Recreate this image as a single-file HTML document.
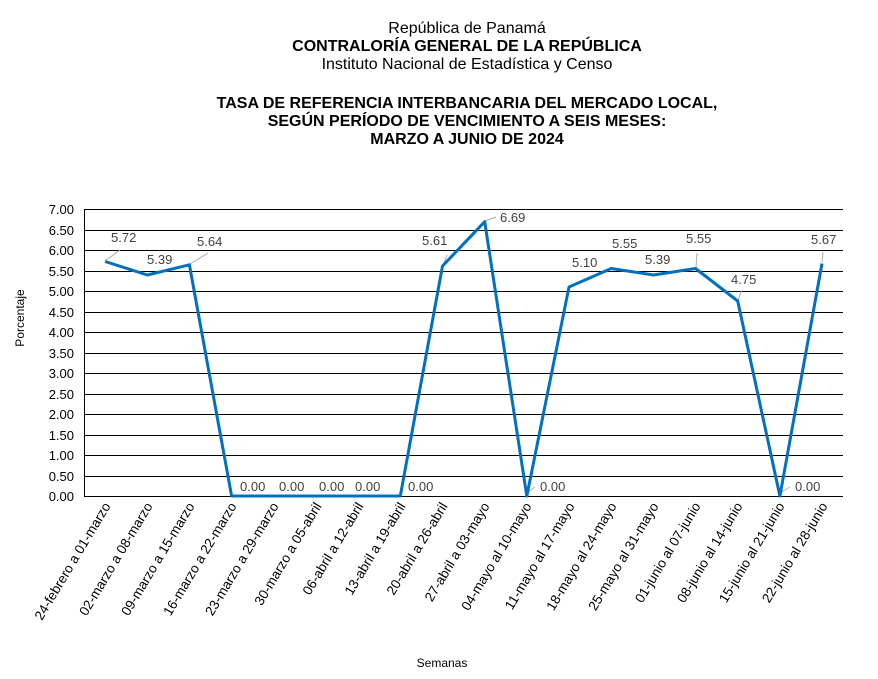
<!DOCTYPE html>
<html><head><meta charset="utf-8"><style>body{margin:0;background:#fff}svg{display:block;font-family:"Liberation Sans",Arial,sans-serif}</style></head><body>
<svg width="878" height="679" viewBox="0 0 878 679">
<g text-anchor="middle" fill="#000">
<text x="467" y="33" font-size="16">República de Panamá</text>
<text x="467" y="51" font-size="16" font-weight="bold">CONTRALORÍA GENERAL DE LA REPÚBLICA</text>
<text x="467" y="69" font-size="16">Instituto  Nacional de Estadística y Censo</text>
<text x="467" y="108" font-size="16" font-weight="bold">TASA DE REFERENCIA INTERBANCARIA DEL MERCADO LOCAL,</text>
<text x="467" y="126" font-size="16" font-weight="bold">SEGÚN PERÍODO DE VENCIMIENTO A SEIS MESES:</text>
<text x="467" y="144" font-size="16" font-weight="bold">MARZO  A JUNIO DE 2024</text>
<text x="442" y="667" font-size="12">Semanas</text>
<text transform="translate(24,318) rotate(-90)" font-size="12">Porcentaje</text>
</g>
<g stroke="#000" stroke-width="1" shape-rendering="crispEdges">
<line x1="84" y1="209.5" x2="843" y2="209.5"/><line x1="84" y1="230.5" x2="843" y2="230.5"/><line x1="84" y1="250.5" x2="843" y2="250.5"/><line x1="84" y1="271.5" x2="843" y2="271.5"/><line x1="84" y1="291.5" x2="843" y2="291.5"/><line x1="84" y1="312.5" x2="843" y2="312.5"/><line x1="84" y1="332.5" x2="843" y2="332.5"/><line x1="84" y1="353.5" x2="843" y2="353.5"/><line x1="84" y1="373.5" x2="843" y2="373.5"/><line x1="84" y1="394.5" x2="843" y2="394.5"/><line x1="84" y1="414.5" x2="843" y2="414.5"/><line x1="84" y1="435.5" x2="843" y2="435.5"/><line x1="84" y1="455.5" x2="843" y2="455.5"/><line x1="84" y1="476.5" x2="843" y2="476.5"/><line x1="84" y1="496.5" x2="843" y2="496.5"/>
<line x1="84.5" y1="209" x2="84.5" y2="496"/>
</g>
<g font-size="13" text-anchor="end" fill="#000">
<text x="74" y="214">7.00</text><text x="74" y="235">6.50</text><text x="74" y="255">6.00</text><text x="74" y="276">5.50</text><text x="74" y="296">5.00</text><text x="74" y="317">4.50</text><text x="74" y="337">4.00</text><text x="74" y="358">3.50</text><text x="74" y="378">3.00</text><text x="74" y="399">2.50</text><text x="74" y="419">2.00</text><text x="74" y="440">1.50</text><text x="74" y="460">1.00</text><text x="74" y="481">0.50</text><text x="74" y="501">0.00</text>
</g>
<g font-size="13.5" text-anchor="end" fill="#000">
<text transform="translate(111,506) rotate(-59)">24-febrero a 01-marzo</text>
<text transform="translate(153,506) rotate(-59)">02-marzo a 08-marzo</text>
<text transform="translate(195,506) rotate(-59)">09-marzo a 15-marzo</text>
<text transform="translate(237,506) rotate(-59)">16-marzo a 22-marzo</text>
<text transform="translate(279,506) rotate(-59)">23-marzo a 29-marzo</text>
<text transform="translate(322,506) rotate(-59)">30-marzo a 05-abril</text>
<text transform="translate(364,506) rotate(-59)">06-abril a 12-abril</text>
<text transform="translate(406,506) rotate(-59)">13-abril a 19-abril</text>
<text transform="translate(448,506) rotate(-59)">20-abril a 26-abril</text>
<text transform="translate(490,506) rotate(-59)">27-abril a 03-mayo</text>
<text transform="translate(532,506) rotate(-59)">04-mayo al 10-mayo</text>
<text transform="translate(575,506) rotate(-59)">11-mayo al 17-mayo</text>
<text transform="translate(617,506) rotate(-59)">18-mayo al 24-mayo</text>
<text transform="translate(659,506) rotate(-59)">25-mayo al 31-mayo</text>
<text transform="translate(701,506) rotate(-59)">01-junio al 07-junio</text>
<text transform="translate(743,506) rotate(-59)">08-junio al 14-junio</text>
<text transform="translate(785,506) rotate(-59)">15-junio al 21-junio</text>
<text transform="translate(828,506) rotate(-59)">22-junio al 28-junio</text>
</g>
<g stroke="#aaa" stroke-width="1" fill="none">
<line x1="105" y1="261" x2="120" y2="250"/><line x1="190" y1="264" x2="208" y2="253"/><line x1="443" y1="266" x2="447" y2="255"/><line x1="485" y1="221" x2="496" y2="217"/><line x1="527" y1="493" x2="535" y2="487"/><line x1="780" y1="493" x2="790" y2="487"/><line x1="696" y1="268" x2="697" y2="253"/><line x1="738" y1="300" x2="742" y2="290"/><line x1="822" y1="262" x2="823" y2="252"/>
</g>
<polyline fill="none" stroke="#0070c0" stroke-width="3" stroke-linejoin="round" points="105.1,261.5 147.3,275 189.4,264.8 231.6,496 273.8,496 316,496 358.1,496 400.3,496 442.5,266 484.7,221.7 526.8,496 569,287 611.2,268.5 653.4,275 695.5,268.5 737.7,301 779.9,496 822,263.5"/>
<g font-size="13" fill="#404040">
<text x="111" y="242">5.72</text><text x="147" y="264">5.39</text><text x="197" y="246">5.64</text>
<text x="240" y="491">0.00</text><text x="279" y="491">0.00</text><text x="319" y="491">0.00</text><text x="355" y="491">0.00</text><text x="408" y="491">0.00</text>
<text x="422" y="245">5.61</text><text x="500" y="222">6.69</text><text x="540" y="491">0.00</text>
<text x="572" y="267">5.10</text><text x="612" y="248">5.55</text><text x="645" y="264">5.39</text><text x="686" y="243">5.55</text><text x="731" y="284">4.75</text><text x="795" y="491">0.00</text><text x="811" y="244">5.67</text>
</g>
</svg>
</body></html>
